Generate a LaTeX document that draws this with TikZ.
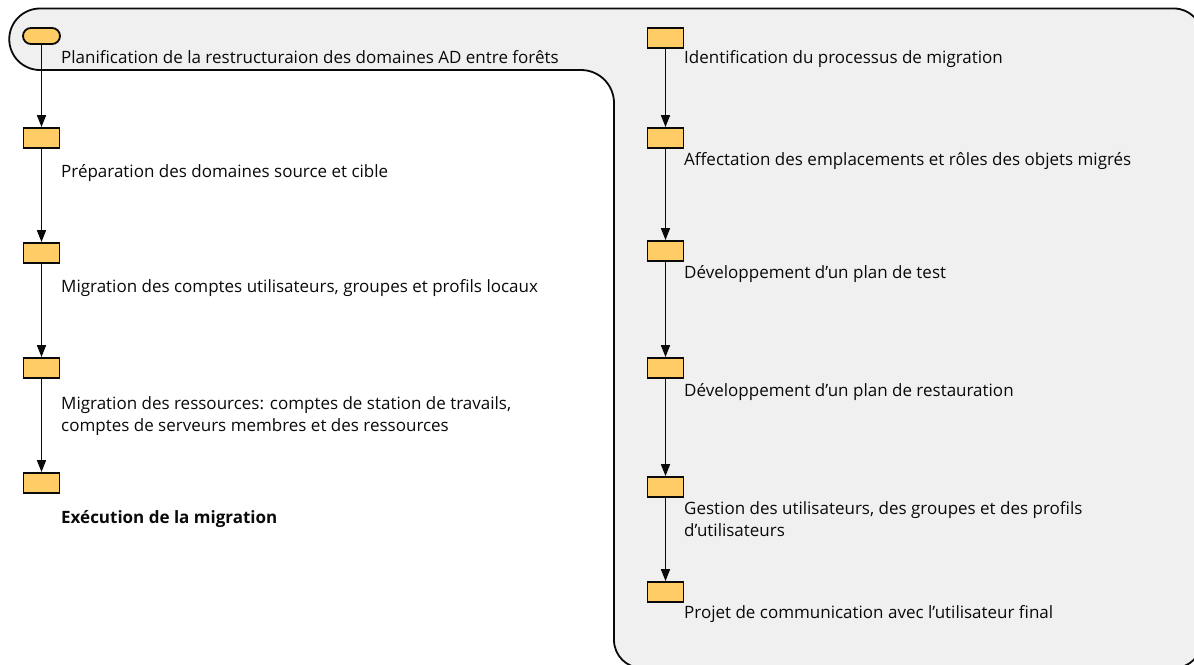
\documentclass[tikz,border=0pt]{standalone}
\usepackage{fontspec}
\setmainfont{Open Sans}
\usetikzlibrary{arrows.meta,shapes.misc}
\definecolor{panel}{RGB}{240,240,240}
\definecolor{stepfill}{RGB}{255,204,102}
\definecolor{ink}{RGB}{10,10,10}
\begin{document}
\begin{tikzpicture}[x=1pt,y=-1pt,
  stepbox/.style={draw=ink,fill=stepfill,line width=1.8pt,rectangle,
    minimum width=36pt,minimum height=20pt,inner sep=0pt},
  startbox/.style={stepbox,rounded rectangle,minimum width=37pt,minimum height=16pt},
  lbl/.style={anchor=base west,inner sep=0pt,text=ink,
    font=\fontsize{17}{22}\selectfont,align=left},
  flow/.style={draw=ink,line width=1.5pt,-{Triangle[length=12pt,width=9pt]}}]
\clip (0,0) rectangle (1194,664);
\fill[white] (0,0) rectangle (1194,664);
% grey swimlane outline
\draw[fill=panel,draw=ink,line width=1.8pt]
  (40,8.5) -- (1174,8.5) arc[start angle=90,end angle=0,radius=28pt]
  -- (1202,640) arc[start angle=0,end angle=-90,radius=28pt]
  -- (642,668) arc[start angle=270,end angle=180,radius=28pt]
  -- (614,103) arc[start angle=0,end angle=90,radius=33pt]
  -- (40,70) arc[start angle=270,end angle=90,radius=30.75pt] -- cycle;
% left column
\node[startbox] (a0) at (41.5,36) {};
\node[stepbox] (a1) at (41.5,138) {};
\node[stepbox] (a2) at (41.5,253) {};
\node[stepbox] (a3) at (41.5,368) {};
\node[stepbox] (a4) at (41.5,483) {};
\node[lbl] (t0) at (61,63) {Planification de la restructuraion des domaines AD entre forêts};
\node[lbl] (t1) at (61,177) {Préparation des domaines source et cible};
\node[lbl] (t2) at (61,292) {Migration des comptes utilisateurs, groupes et profils locaux};
\node[lbl] (t3) at (61,431) {Migration des ressources: comptes de station de travails,\\comptes de serveurs membres et des ressources};
\node[lbl,font=\fontsize{17}{22}\selectfont\bfseries] (t4) at (61,523) {Exécution de la migration};
\draw[flow] (a0.south) -- (a1.north);
\draw[flow] (a1.south) -- (a2.north);
\draw[flow] (a2.south) -- (a3.north);
\draw[flow] (a3.south) -- (a4.north);
% right column
\node[stepbox] (b0) at (665.5,38) {};
\node[stepbox] (b1) at (665.5,138) {};
\node[stepbox] (b2) at (665.5,251) {};
\node[stepbox] (b3) at (665.5,368) {};
\node[stepbox] (b4) at (665.5,487) {};
\node[stepbox] (b5) at (665.5,592) {};
\node[lbl] (u0) at (684,63) {Identification du processus de migration};
\node[lbl] (u1) at (684,165) {Affectation des emplacements et rôles des objets migrés};
\node[lbl] (u2) at (684,278) {Développement d’un plan de test};
\node[lbl] (u3) at (684,396) {Développement d’un plan de restauration};
\node[lbl] (u4) at (684,536) {Gestion des utilisateurs, des groupes et des profils\\d’utilisateurs};
\node[lbl] (u5) at (684,618) {Projet de communication avec l’utilisateur final};
\draw[flow] (b0.south) -- (b1.north);
\draw[flow] (b1.south) -- (b2.north);
\draw[flow] (b2.south) -- (b3.north);
\draw[flow] (b3.south) -- (b4.north);
\draw[flow] (b4.south) -- (b5.north);
\end{tikzpicture}
\end{document}
